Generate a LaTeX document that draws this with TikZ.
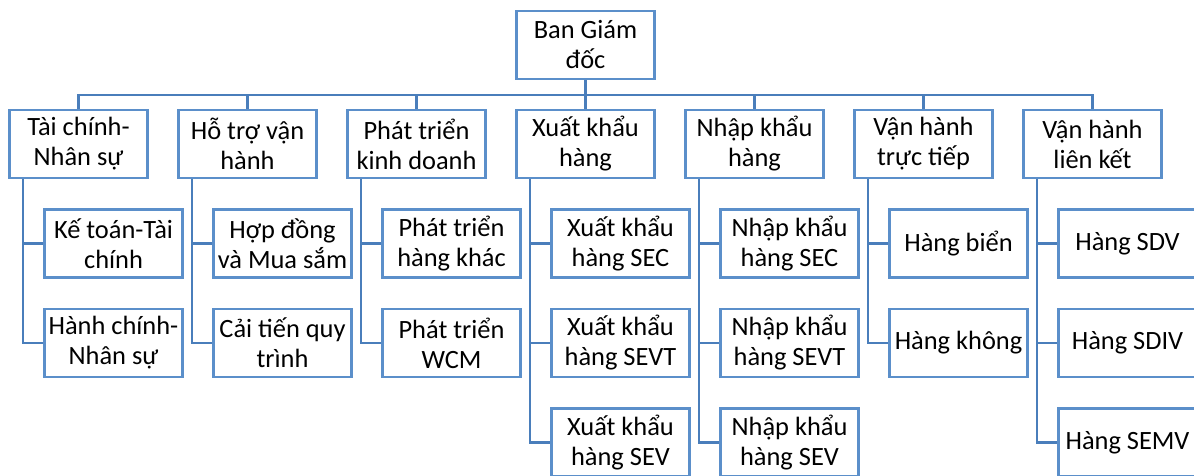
\documentclass[tikz,border=0pt]{standalone}
\usepackage{fontspec}
\setmainfont{Carlito}
\definecolor{boxblue}{HTML}{5B8FCA}
\definecolor{lineblue}{HTML}{4A7EBB}
\begin{document}
\begin{tikzpicture}[x=0.75pt,y=-0.75pt,
  box/.style={draw=boxblue, line width=2.2pt, fill=white, minimum width=103.5pt, minimum height=51pt,
    inner sep=0pt, align=center, font=\fontsize{19.8}{22.5}\selectfont},
  conn/.style={draw=lineblue, line width=2.2pt}]
\useasboundingbox (0,0) rectangle (1194,475);
\clip (0,0) rectangle (1194,475);
% root
\node[box] (root) at (585.5,45) {Ban Giám\\đốc};
% level 1
\node[box] (a) at (78.5,144) {Tài chính-\\Nhân sự};
\node[box] (b) at (247.5,144) {Hỗ trợ vận\\hành};
\node[box] (c) at (416.5,144) {Phát triển\\kinh doanh};
\node[box] (d) at (585.5,144) {Xuất khẩu\\hàng};
\node[box] (e) at (754.5,144) {Nhập khẩu\\hàng};
\node[box] (f) at (923.5,144) {Vận hành\\trực tiếp};
\node[box] (g) at (1092.5,144) {Vận hành\\liên kết};
% level 2
\node[box] (a1) at (113.5,243.5) {Kế toán-Tài\\chính};
\node[box] (a2) at (113.5,343) {Hành chính-\\Nhân sự};
\node[box] (b1) at (282.5,243.5) {Hợp đồng\\và Mua sắm};
\node[box] (b2) at (282.5,343) {Cải tiến quy\\trình};
\node[box] (c1) at (451.5,243.5) {Phát triển\\hàng khác};
\node[box] (c2) at (451.5,343) {Phát triển\\WCM};
\node[box] (d1) at (620.5,243.5) {Xuất khẩu\\hàng SEC};
\node[box] (d2) at (620.5,343) {Xuất khẩu\\hàng SEVT};
\node[box] (d3) at (620.5,442.5) {Xuất khẩu\\hàng SEV};
\node[box] (e1) at (789.5,243.5) {Nhập khẩu\\hàng SEC};
\node[box] (e2) at (789.5,343) {Nhập khẩu\\hàng SEVT};
\node[box] (e3) at (789.5,442.5) {Nhập khẩu\\hàng SEV};
\node[box] (f1) at (958.5,243.5) {Hàng biển};
\node[box] (f2) at (958.5,343) {Hàng không};
\node[box] (g1) at (1127.5,243.5) {Hàng SDV};
\node[box] (g2) at (1127.5,343) {Hàng SDIV};
\node[box] (g3) at (1127.5,442.5) {Hàng SEMV};
% connectors root -> level 1
\foreach \n in {a,b,c,d,e,f,g}
  \draw[conn] (root.south) -- ++(0,14.5) -| (\n.north);
% connectors level 1 -> level 2
\foreach \p/\k in {a/a1,a/a2,b/b1,b/b2,c/c1,c/c2,d/d1,d/d2,d/d3,e/e1,e/e2,e/e3,f/f1,f/f2,g/g1,g/g2,g/g3}
  \draw[conn] ([xshift=-55.5*0.75pt]\p.south) |- (\k.west);
\end{tikzpicture}
\end{document}
